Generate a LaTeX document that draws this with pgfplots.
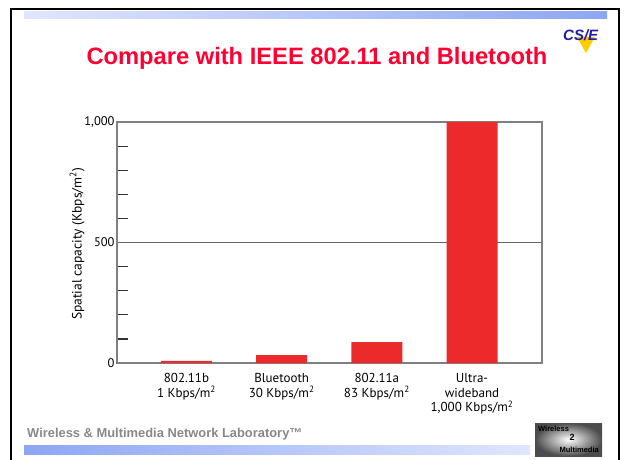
\documentclass[border=0pt]{standalone}
\usepackage{fontspec}
\setmainfont{Liberation Sans}
\newfontfamily\chartfont{PT Sans}
\usepackage{pgfplots}
\pgfplotsset{compat=1.18}
\usetikzlibrary{shadings}
\definecolor{barred}{RGB}{237,42,43}
\definecolor{titlered}{RGB}{255,0,51}
\definecolor{axgray}{RGB}{128,128,128}
\definecolor{gradlight}{RGB}{224,230,255}
\definecolor{graddark}{RGB}{140,166,242}
\definecolor{footgray}{RGB}{136,136,136}
\definecolor{csblue}{RGB}{30,30,170}
\definecolor{csyellow}{RGB}{255,204,0}
\begin{document}
\begin{tikzpicture}[x=1pt,y=1pt]
\path[use as bounding box] (0,0) rectangle (624,459);
% slide frame
\draw[line width=1.8pt,black] (11,-5) -- (11,450) -- (619,450) -- (619,-5);
% gradient bars
\shade[left color=gradlight,right color=graddark] (24,440) rectangle (607,447);
\shade[left color=graddark,right color=gradlight] (24,5) rectangle (530,14);
% title
\node[anchor=base,text=titlered,font=\bfseries\fontsize{23.7}{27}\selectfont,inner sep=0pt] at (317,394.7) {Compare with IEEE 802.11 and Bluetooth};
% CSIE logo
\fill[csyellow] (577,422) -- (595,422) -- (586,406) -- cycle;
\node[anchor=west,text=csblue,font=\bfseries\itshape\fontsize{15}{16}\selectfont,inner sep=0pt] at (563,423.5) {CS/E};
% footer
\node[anchor=west,text=footgray,font=\bfseries\fontsize{12.9}{14}\selectfont,inner sep=0pt] at (27,25) {Wireless \& Multimedia Network Laboratory™};
% Wireless Multimedia logo
\shade[inner color=white,outer color=black!70] (535,3) rectangle (602,36);
\node[anchor=north west,font=\bfseries\fontsize{7.5}{8}\selectfont,inner sep=0pt] at (538,33) {Wireless};
\node[anchor=south east,font=\bfseries\fontsize{7.5}{8}\selectfont,inner sep=0pt] at (599,6) {Multimedia};
\node[font=\bfseries\fontsize{9}{9}\selectfont,inner sep=0pt] at (572,22) {2};
% chart
\begin{axis}[
  at={(117pt,96pt)}, anchor=south west,
  scale only axis, width=425pt, height=241pt,
  xmin=-0.730, xmax=3.735, ymin=0, ymax=1000,
  axis line style={axgray,line width=1.2pt},
  xtick={0,1,2,3},
  xticklabels={{802.11b\\1 Kbps/m\textsuperscript{2}},{Bluetooth\\30 Kbps/m\textsuperscript{2}},{802.11a\\83 Kbps/m\textsuperscript{2}},{Ultra-\\wideband\\1,000 Kbps/m\textsuperscript{2}}},
  xticklabel style={align=center,font=\chartfont\fontsize{13}{14.5}\selectfont,yshift=-7pt},
  ytick={0,500,1000},
  yticklabels={0,500,{1,000}},
  yticklabel style={font=\chartfont\fontsize{12.5}{13}\selectfont,xshift=1pt},
  minor ytick={100,200,300,400,600,700,800,900},
  major tick length=0pt, minor tick length=11pt,
  tick align=inside, ytick pos=left, xtick pos=bottom,
  minor tick style={black!80,line width=1.2pt},
  ymajorgrids, grid style={black!60,line width=1pt},
  ylabel={Spatial capacity (Kbps/m\textsuperscript{2})},
  ylabel style={font=\chartfont\fontsize{13.5}{14}\selectfont,at={(axis description cs:-0.094,0.494)},anchor=center},
]
\addplot[ybar,bar width=0.536,fill=barred,draw=none] coordinates {(0,9) (1,33) (2,87) (3,1000)};
\end{axis}
\end{tikzpicture}
\end{document}
